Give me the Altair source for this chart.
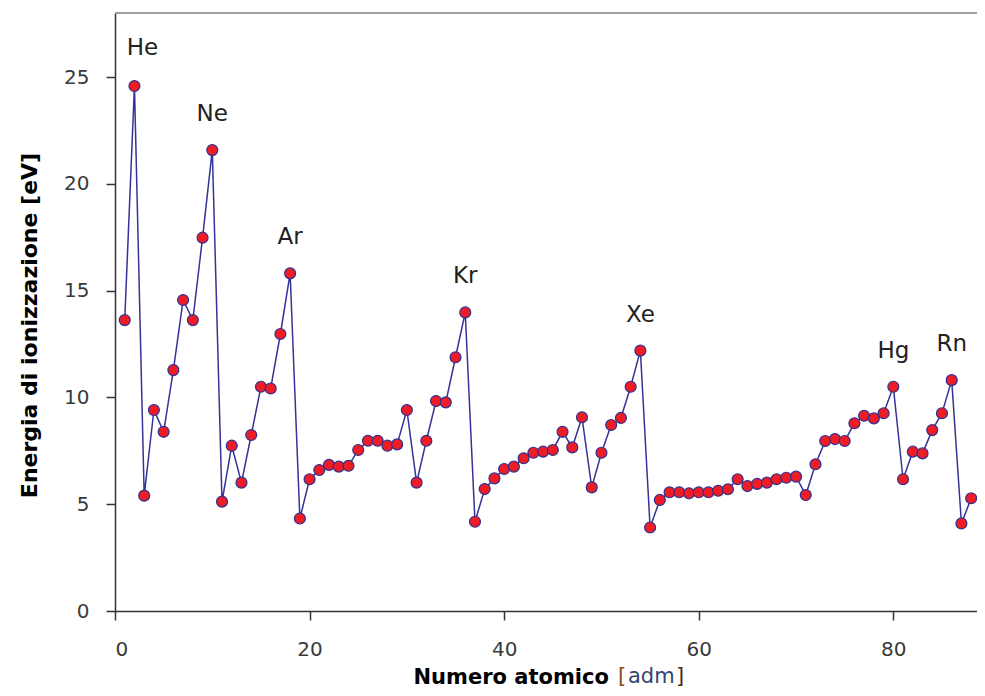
import altair as alt
import pandas as pd

atomic_number = list(range(1, 89))
energy_ev = [
    13.62, 24.58, 5.40, 9.41, 8.39, 11.28, 14.56, 13.62, 17.48, 21.58,
    5.12, 7.74, 6.01, 8.24, 10.50, 10.42, 12.97, 15.81, 4.33, 6.17,
    6.60, 6.84, 6.76, 6.80, 7.54, 7.97, 7.97, 7.74, 7.80, 9.41,
    6.01, 7.97, 9.83, 9.77, 11.88, 13.98, 4.18, 5.71, 6.21, 6.65,
    6.76, 7.15, 7.41, 7.46, 7.54, 8.39, 7.66, 9.07, 5.79, 7.41,
    8.71, 9.04, 10.50, 12.19, 3.91, 5.20, 5.56, 5.56, 5.51, 5.56,
    5.56, 5.63, 5.70, 6.17, 5.85, 5.95, 6.01, 6.17, 6.24, 6.29,
    5.43, 6.87, 7.96, 8.05, 7.96, 8.79, 9.14, 9.02, 9.26, 10.50,
    6.17, 7.46, 7.38, 8.47, 9.26, 10.81, 4.10, 5.28,
]
label_names = ["He", "Ne", "Ar", "Kr", "Xe", "Hg", "Rn"]
label_z = [2, 10, 18, 36, 54, 80, 86]
x_ticks = [0, 20, 40, 60, 80]
y_ticks = [0, 5, 10, 15, 20, 25]

df = pd.DataFrame({"Z": atomic_number, "E": energy_ev})
lab = pd.DataFrame({
    "name": label_names,
    "Z": label_z,
    "E": [energy_ev[z - 1] for z in label_z],
})

W, H = 862, 598
PAD_BOTTOM = 76
TITLE_Y = 72
FONT = "DejaVu Sans"

x_enc = alt.X(
    "Z:Q",
    scale=alt.Scale(domain=[0, 88.6], nice=False, zero=False),
    axis=alt.Axis(
        values=x_ticks, format="d", grid=False,
        domainColor="#333333", domainWidth=1.5,
        tickColor="#333333", tickWidth=1.5, tickSize=9,
        labelFont=FONT, labelFontSize=20, labelColor="#3a3a3a", labelPadding=19,
        title="Numero atomico", titleFont=FONT, titleFontSize=21,
        titleFontWeight="bold", titleColor="#000000",
        titleAlign="left", titleBaseline="alphabetic",
        titleX=298, titleY=TITLE_Y,
    ),
)
y_enc = alt.Y(
    "E:Q",
    scale=alt.Scale(domain=[0, 28], nice=False, zero=True),
    axis=alt.Axis(
        values=y_ticks, format="d", grid=False,
        domainColor="#333333", domainWidth=1.5,
        tickColor="#333333", tickWidth=1.5, tickSize=9,
        labelFont=FONT, labelFontSize=20, labelColor="#3a3a3a", labelPadding=17,
        title="Energia di ionizzazione [eV]", titleFont=FONT, titleFontSize=22,
        titleFontWeight="bold", titleColor="#000000",
        titleAngle=270, titleAlign="center", titleBaseline="middle",
        titleX=-86, titleY=312,
    ),
)

base = alt.Chart(df)
line = base.mark_line(color="#333399", strokeWidth=1.5).encode(x=x_enc, y=y_enc)
pts = base.mark_circle(size=120, color="#ee1c25", opacity=1,
                       stroke="#2e3192", strokeWidth=1.2).encode(x="Z:Q", y="E:Q")

top_rule = alt.Chart(pd.DataFrame({"t": [28]})).mark_rule(
    color="#a0a0a0", strokeWidth=2).encode(y="t:Q")

lab_main = alt.Chart(lab[lab["name"] != "He"]).mark_text(
    font=FONT, fontSize=23, color="#222222", dy=-29, baseline="alphabetic"
).encode(x="Z:Q", y="E:Q", text="name:N")
lab_he = alt.Chart(lab[lab["name"] == "He"]).mark_text(
    font=FONT, fontSize=23, color="#222222", dy=-31, dx=8, baseline="alphabetic"
).encode(x="Z:Q", y="E:Q", text="name:N")

unit_df = pd.DataFrame({"s": ["x"]})
ty = H + TITLE_Y
u1 = alt.Chart(unit_df).mark_text(font=FONT, fontSize=21, color="#8b4a1c", align="left",
                                  baseline="alphabetic", text="[").encode(
    x=alt.value(503), y=alt.value(ty))
u2 = alt.Chart(unit_df).mark_text(font=FONT, fontSize=21, color="#34466e", align="left",
                                  baseline="alphabetic", text="adm").encode(
    x=alt.value(513), y=alt.value(ty))
u3 = alt.Chart(unit_df).mark_text(font=FONT, fontSize=21, color="#4a2a14", align="left",
                                  baseline="alphabetic", text="]").encode(
    x=alt.value(561), y=alt.value(ty))

chart = alt.layer(line, pts, top_rule, lab_main, lab_he, u1, u2, u3).properties(
    width=W, height=H,
    autosize=alt.AutoSizeParams(type="none"),
    padding={"left": 107, "top": 5, "right": 0, "bottom": PAD_BOTTOM},
).configure_view(stroke=None).configure(background="white")

chart.save("out.html", embed_options={"renderer": "svg", "actions": False})
